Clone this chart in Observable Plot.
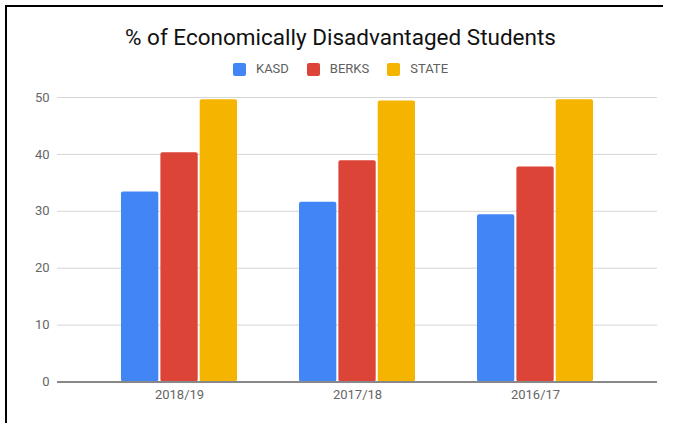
<!DOCTYPE html>
<html>
<head>
<meta charset="utf-8">
<script src="https://cdn.jsdelivr.net/npm/d3@7"></script>
<script src="https://cdn.jsdelivr.net/npm/@observablehq/plot@0.6"></script>
<style>
  html, body { margin: 0; padding: 0; background: #fff; }
  #page { position: relative; width: 673px; height: 423px; overflow: hidden; font-family: Roboto, "Noto Sans", sans-serif; }
  #border { position: absolute; left: 5px; top: 5px; width: 658px; height: 430px; border-left: 2px solid #000; border-top: 2px solid #000; box-sizing: border-box; }
  #title { position: absolute; left: 4px; top: 24px; width: 673px; text-align: center; font-size: 22.5px; line-height: 26px; color: #111; }
  #legend { position: absolute; left: 4px; top: 61px; width: 673px; display: flex; justify-content: center; align-items: center; font-size: 13px; line-height: 16px; color: #606060; }
  .item { display: flex; align-items: center; margin: 0 9px; }
  .sw { width: 13px; height: 13px; border-radius: 2px; margin-right: 10px; }
  #chart { position: absolute; left: 0; top: 85px; }
</style>
</head>
<body>
<div id="page">
  <div id="border"></div>
  <div id="title"></div>
  <div id="legend"></div>
  <div id="chart"></div>
</div>
<script>
const title = "% of Economically Disadvantaged Students";
const years = ["2018/19", "2017/18", "2016/17"];
const seriesNames = ["KASD", "BERKS", "STATE"];
const kasd = [33.4, 31.6, 29.4];
const berks = [40.3, 38.9, 37.8];
const state = [49.6, 49.4, 49.6];
const seriesColors = ["#4285F4", "#DB4437", "#F4B400"];
const yTicks = [0, 10, 20, 30, 40, 50];

const seriesValues = [kasd, berks, state];
const rows = [];
seriesNames.forEach((s, i) => years.forEach((y, j) => rows.push({year: y, series: s, value: seriesValues[i][j]})));

document.getElementById("title").textContent = title;
const legend = document.getElementById("legend");
seriesNames.forEach((s, i) => {
  const it = document.createElement("div");
  it.className = "item";
  const sw = document.createElement("div");
  sw.className = "sw";
  sw.style.background = seriesColors[i];
  const tx = document.createElement("span");
  tx.textContent = s;
  it.appendChild(sw); it.appendChild(tx);
  legend.appendChild(it);
});

const insets = [[0, 78.7], [39.4, 39.3], [78.7, 0]];

const chart = Plot.plot({
  width: 673,
  height: 338,
  marginLeft: 57,
  marginRight: 16,
  marginTop: 12,
  marginBottom: 41.5,
  style: {fontFamily: "Roboto, sans-serif", fontSize: "13px", color: "#666", background: "transparent"},
  x: {domain: years, paddingInner: 0.35, paddingOuter: 0.355, tickSize: 0, tickPadding: 8, label: null},
  y: {domain: [0, 50], ticks: yTicks, tickSize: 0, tickPadding: 8, label: null},
  marks: [
    Plot.ruleY(yTicks.slice(1), {stroke: "#d6d6d6", strokeWidth: 1}),
    ...seriesNames.map((s, i) => Plot.barY(rows.filter(d => d.series === s), {
      x: "year", y: "value", fill: seriesColors[i], rx: 2,
      insetLeft: insets[i][0], insetRight: insets[i][1]
    })),
    Plot.ruleY([0], {stroke: "#888", strokeWidth: 2})
  ]
});
document.getElementById("chart").appendChild(chart);
</script>
</body>
</html>
